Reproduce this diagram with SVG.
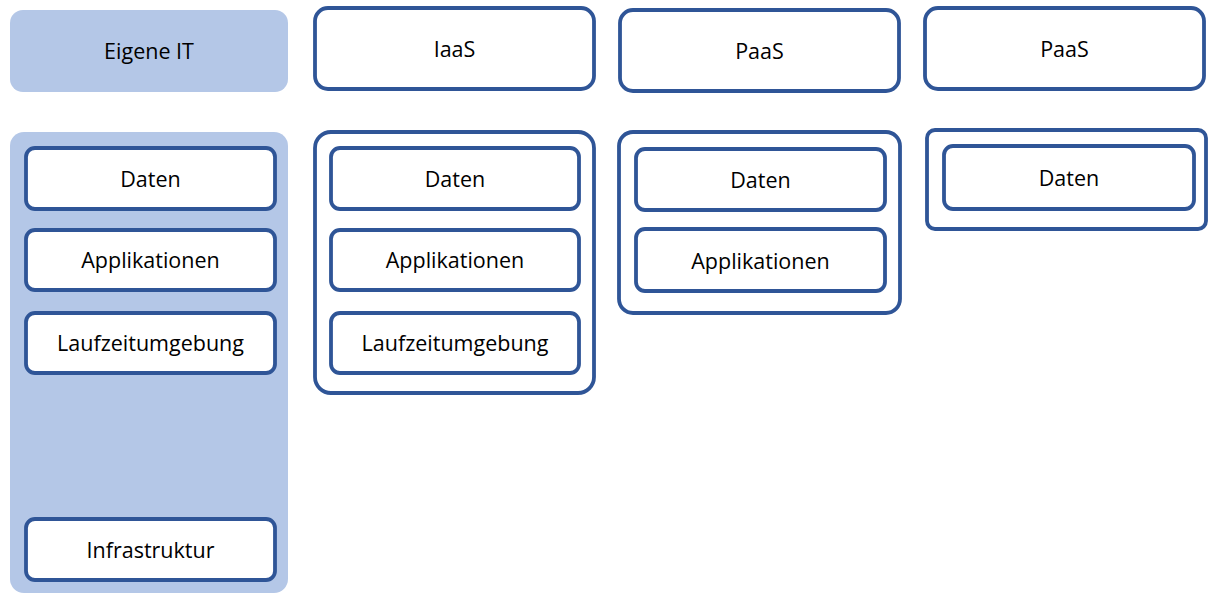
<svg xmlns="http://www.w3.org/2000/svg" width="1208" height="593" viewBox="0 0 1208 593">
  <style>
    .own { fill: #b4c7e7; stroke: none; }
    .box { fill: #ffffff; stroke: #2f5597; stroke-width: 3.8; }
    .frame { fill: none; stroke: #2f5597; stroke-width: 3.8; }
    .lbl { font-family: "Open Sans", "Liberation Sans", sans-serif; font-size: 21.5px; fill: #000000; text-anchor: middle; }
  </style>
  <rect width="1208" height="593" fill="#ffffff"/>

  <!-- Column headers -->
  <g id="head-eigene-it">
    <rect class="own" x="10" y="10" width="278" height="82" rx="13"/>
    <text class="lbl" x="149" y="59">Eigene IT</text>
  </g>
  <g id="head-iaas">
    <rect class="box" x="315" y="8" width="279" height="81" rx="13"/>
    <text class="lbl" x="454.5" y="57">IaaS</text>
  </g>
  <g id="head-paas-1">
    <rect class="box" x="620" y="10" width="279" height="81" rx="13"/>
    <text class="lbl" x="759.5" y="59">PaaS</text>
  </g>
  <g id="head-paas-2">
    <rect class="box" x="925" y="8" width="279" height="81" rx="13"/>
    <text class="lbl" x="1064.5" y="57">PaaS</text>
  </g>

  <!-- Eigene IT stack -->
  <g id="stack-eigene-it">
    <rect class="own" x="10" y="132" width="278" height="461" rx="14"/>
    <g id="e-daten">
      <rect class="box" x="26" y="148" width="249" height="61" rx="9"/>
      <text class="lbl" x="150.5" y="187">Daten</text>
    </g>
    <g id="e-applikationen">
      <rect class="box" x="26" y="230" width="249" height="60" rx="9"/>
      <text class="lbl" x="150.5" y="268">Applikationen</text>
    </g>
    <g id="e-laufzeit">
      <rect class="box" x="26" y="313" width="249" height="60" rx="9"/>
      <text class="lbl" x="150.5" y="351">Laufzeitumgebung</text>
    </g>
    <g id="e-infrastruktur">
      <rect class="box" x="26" y="519" width="249" height="61" rx="9"/>
      <text class="lbl" x="150.5" y="558">Infrastruktur</text>
    </g>
  </g>

  <!-- IaaS stack -->
  <g id="stack-iaas">
    <rect class="frame" x="315" y="132" width="279" height="261" rx="16"/>
    <g id="i-daten">
      <rect class="box" x="331" y="148" width="248" height="61" rx="9"/>
      <text class="lbl" x="455" y="187">Daten</text>
    </g>
    <g id="i-applikationen">
      <rect class="box" x="331" y="230" width="248" height="60" rx="9"/>
      <text class="lbl" x="455" y="268">Applikationen</text>
    </g>
    <g id="i-laufzeit">
      <rect class="box" x="331" y="313" width="248" height="60" rx="9"/>
      <text class="lbl" x="455" y="351">Laufzeitumgebung</text>
    </g>
  </g>

  <!-- PaaS stack -->
  <g id="stack-paas-1">
    <rect class="frame" x="619" y="132" width="281" height="181" rx="14"/>
    <g id="p1-daten">
      <rect class="box" x="636" y="149" width="249" height="61" rx="9"/>
      <text class="lbl" x="760.5" y="188">Daten</text>
    </g>
    <g id="p1-applikationen">
      <rect class="box" x="636" y="229" width="249" height="62" rx="9"/>
      <text class="lbl" x="760.5" y="269">Applikationen</text>
    </g>
  </g>

  <!-- second PaaS stack -->
  <g id="stack-paas-2">
    <rect class="frame" x="927" y="130" width="279" height="99" rx="8"/>
    <g id="p2-daten">
      <rect class="box" x="944" y="146" width="250" height="63" rx="9"/>
      <text class="lbl" x="1069" y="186">Daten</text>
    </g>
  </g>

  <g id="connectors"/>
</svg>
